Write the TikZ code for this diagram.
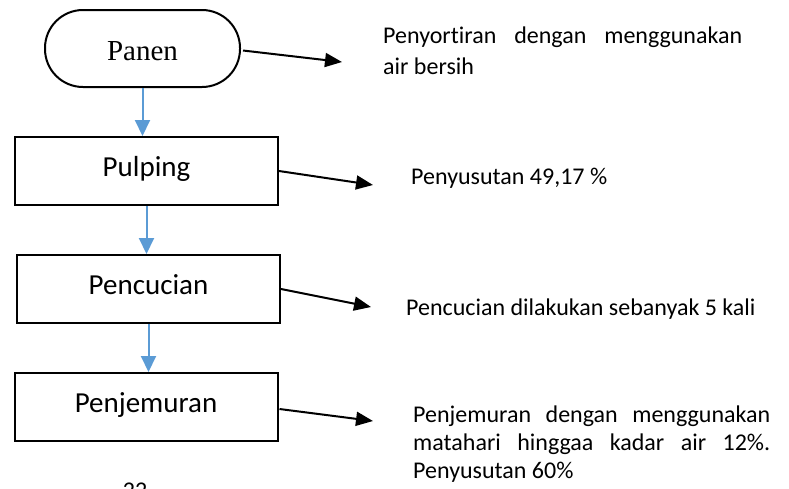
\documentclass[tikz,border=0pt]{standalone}
\usepackage{fontspec}
\setmainfont{Carlito}[Ligatures=NoCommon]
\newfontfamily\timesfont{Liberation Serif}
\usepackage{xcolor}
\usepackage{tikz}
\usetikzlibrary{arrows.meta,positioning}
\definecolor{flowblue}{HTML}{5B9BD5}

\begin{document}
\begin{tikzpicture}[
  x=1pt,y=-1pt,
  node distance=48pt,
  proc/.style={draw,line width=2pt,minimum width=263pt,minimum height=68pt,inner sep=0pt,text height=19pt,text depth=8pt,font=\fontsize{29}{34}\selectfont},
  term/.style={proc,rounded corners=38pt,minimum width=195pt,minimum height=77pt,text height=23pt,text depth=0pt,font=\timesfont\fontsize{29}{34}\selectfont},
  note/.style={inner sep=0pt,anchor=base west,font=\fontsize{24}{29.5}\selectfont},
  flow/.style={-{Triangle[length=16pt,width=15pt]},line width=2pt,flowblue},
  outarrow/.style={-{Triangle[length=17pt,width=14pt]},line width=2pt}
]
\useasboundingbox (0,0) rectangle (789,488);
\clip (0,0) rectangle (789,488);
\node[term] (panen) at (142.5,48.5) {Panen};
\node[proc,below=of panen,xshift=4pt] (pulping) {Pulping};
\node[proc,below=of pulping,xshift=2pt] (pencucian) {Pencucian};
\node[proc,below=of pencucian,xshift=-2.5pt] (penjemuran) {Penjemuran};
\node[note,text width=359pt,align=justify,font=\fontsize{24}{31}\selectfont] (sortir) at (383,43) {Penyortiran dengan menggunakan\linebreak air bersih};
\node[note] (susut) at (411,184) {Penyusutan 49,17 \%};
\node[note] (cuci) at (406,315) {Pencucian dilakukan sebanyak 5 kali};
\node[note,text width=357pt,align=justify,font=\fontsize{24}{28}\selectfont] (jemur) at (413,422) {Penjemuran dengan menggunakan matahari hinggaa kadar air 12\%. Penyusutan 60\%};
\node[font=\fontsize{24}{29}\selectfont,anchor=base] (hal) at (135,498) {22};
\coordinate (e1) at (342,62);
\coordinate (e2) at (373,185);
\coordinate (e3) at (371,307);
\coordinate (e4) at (373,421);
\draw[flow] (panen.south) -- (panen.south |- pulping.north);
\draw[flow] (pulping.south) -- (pulping.south |- pencucian.north);
\draw[flow] (pencucian.south) -- (pencucian.south |- penjemuran.north);
\draw[outarrow] (panen.east) ++(2,2) -- (e1);
\draw[outarrow] (pulping.east) -- (e2);
\draw[outarrow] (pencucian.east) -- (e3);
\draw[outarrow] (penjemuran.east) ++(1,2) -- (e4);
\end{tikzpicture}
\end{document}
